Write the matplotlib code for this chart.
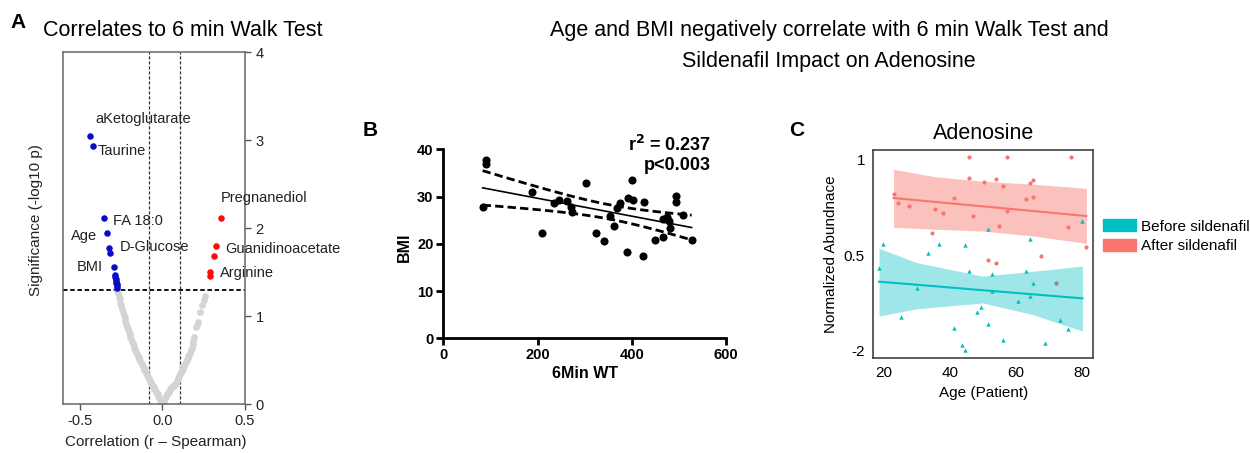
import numpy as np
import matplotlib
matplotlib.use("Agg")
from matplotlib import pyplot as plt
from matplotlib.patches import Patch

plt.rcParams['font.family'] = ['Liberation Sans', 'DejaVu Sans']

# ---- panel A : volcano of correlations with 6MWT ----
sig_neg_r = [-0.434, -0.42, -0.353, -0.333, -0.32, -0.316, -0.293,
             -0.286, -0.284, -0.282, -0.28, -0.278, -0.276, -0.274, -0.272]
sig_neg_p = [3.05, 2.93, 2.11, 1.94, 1.77, 1.72, 1.56,
             1.47, 1.44, 1.42, 1.40, 1.38, 1.36, 1.34, 1.32]
sig_pos_r = [0.355, 0.325, 0.313, 0.289, 0.287]
sig_pos_p = [2.11, 1.80, 1.68, 1.50, 1.45]
ns_r = [-0.003, -0.008, -0.013, -0.018, -0.023, -0.028, -0.033, -0.038, -0.043,
        -0.048, -0.053, -0.058, -0.063, -0.068, -0.073, -0.078, -0.083, -0.088,
        -0.093, -0.098, -0.103, -0.108, -0.113, -0.118, -0.123, -0.128, -0.133,
        -0.138, -0.143, -0.148, -0.153, -0.158, -0.163, -0.168, -0.173, -0.178,
        -0.183, -0.188, -0.193, -0.198, -0.203, -0.208, -0.213, -0.218, -0.223,
        -0.228, -0.233, -0.238, -0.243, -0.248, -0.253, -0.258, -0.263, -0.268, -0.271,
        0.003, 0.008, 0.013, 0.018, 0.023, 0.028, 0.033, 0.038, 0.043, 0.048,
        0.053, 0.058, 0.063, 0.068, 0.073, 0.078, 0.083, 0.088, 0.093, 0.098,
        0.103, 0.108, 0.113, 0.118, 0.123, 0.128, 0.133, 0.138, 0.143, 0.148,
        0.153, 0.158, 0.163, 0.168, 0.173, 0.178, 0.183, 0.188, 0.192,
        0.205, 0.21, 0.215, 0.228, 0.238, 0.252, 0.258]
ns_p = [0.01, 0.03, 0.05, 0.07, 0.09, 0.11, 0.12, 0.14, 0.16,
        0.17, 0.19, 0.21, 0.22, 0.24, 0.26, 0.28, 0.29, 0.31,
        0.33, 0.35, 0.37, 0.39, 0.41, 0.43, 0.45, 0.47, 0.49,
        0.51, 0.53, 0.55, 0.57, 0.59, 0.61, 0.64, 0.66, 0.69,
        0.71, 0.74, 0.76, 0.79, 0.82, 0.85, 0.88, 0.91, 0.94,
        0.98, 1.01, 1.05, 1.08, 1.12, 1.15, 1.19, 1.22, 1.26, 1.28,
        0.01, 0.03, 0.05, 0.07, 0.09, 0.11, 0.12, 0.14, 0.15, 0.17,
        0.18, 0.19, 0.20, 0.21, 0.22, 0.23, 0.24, 0.26, 0.28, 0.30,
        0.32, 0.34, 0.36, 0.38, 0.40, 0.42, 0.44, 0.46, 0.48, 0.50,
        0.52, 0.54, 0.56, 0.58, 0.61, 0.64, 0.68, 0.72, 0.76,
        0.87, 0.90, 0.93, 1.05, 1.12, 1.18, 1.23]
a_labels = ["aKetoglutarate", "Taurine", "Pregnanediol", "FA 18:0", "Age",
            "D-Glucose", "BMI", "Guanidinoacetate", "Arginine"]
a_label_xy = [(-0.404, 3.24), (-0.392, 2.875), (0.355, 2.34), (-0.30, 2.08),
              (-0.554, 1.91), (-0.259, 1.78), (-0.518, 1.56), (0.38, 1.76), (0.349, 1.49)]
r_cut = [-0.078, 0.108]
p_cut = 1.301

# ---- panel B : BMI vs 6MWT ----
wt = [83.5, 90, 90, 187.5, 210, 235, 245.6, 263, 270, 272.5, 303, 324, 342, 354,
      363, 368, 375, 389, 391, 400, 402, 423, 425, 449, 467, 466, 474, 478, 481,
      494, 494, 509.5, 527]
bmi = [27.7, 37.7, 36.9, 31.0, 22.2, 28.7, 29.3, 29.1, 27.7, 26.8, 32.9, 22.2,
       20.5, 25.9, 23.8, 27.5, 28.7, 18.3, 29.6, 33.4, 29.3, 17.4, 28.8, 20.7,
       21.5, 25.3, 25.6, 24.9, 23.3, 30.1, 28.8, 26.1, 20.8]

# ---- panel C : adenosine vs age ----
after_age = [45.9, 57.3, 76.8, 45.9, 50.4, 53.9, 56.2, 64.2, 65.3, 22.9, 24.1,
             27.6, 41.3, 35.6, 37.8, 47.1, 57.3, 63.0, 65.3, 55.0, 34.5, 75.7,
             81.4, 67.6, 51.6, 53.9]
after_val = [1.026, 1.019, 1.026, 0.807, 0.765, 0.79, 0.723, 0.755, 0.783, 0.633,
             0.546, 0.515, 0.591, 0.477, 0.435, 0.41, 0.463, 0.588, 0.605, 0.299,
             0.226, 0.292, 0.087, -0.014, -0.056, -0.087]
before_age = [18.5, 19.6, 25.3, 29.9, 33.4, 36.8, 41.3, 43.6, 44.7, 44.7, 45.9,
              48.2, 49.3, 51.6, 51.6, 52.8, 52.8, 56.2, 60.8, 63.0, 64.2, 64.2,
              65.3, 68.8, 73.3, 75.7, 80.2]
before_val = [-0.132, 0.111, -0.643, -0.348, 0.017, 0.118, -0.765, -0.939, -0.991,
              0.101, -0.167, -0.598, -0.539, 0.275, -0.723, -0.198, -0.376, -0.887,
              -0.48, -0.163, 0.167, -0.424, -0.296, -0.915, -0.678, -0.769, 0.355]
overlap_age = [72.2]
overlap_val = [-0.289]
after_band_x = [22.9, 35, 50, 65, 81.4]
after_fit = [0.595, 0.556, 0.508, 0.460, 0.407]
after_hi = [0.894, 0.82, 0.77, 0.74, 0.696]
after_lo = [0.289, 0.27, 0.25, 0.20, 0.122]
before_band_x = [18.5, 30, 50, 65, 80.2]
before_fit = [-0.278, -0.310, -0.367, -0.409, -0.452]
before_hi = [0.07, -0.08, -0.22, -0.17, -0.115]
before_lo = [-0.637, -0.56, -0.50, -0.62, -0.793]
c_yticks = [1, 0, -1]
c_yticklabels = ["1", "0.5", "-2"]

W, H = 1250, 453
fig = plt.figure(figsize=(12.5, 4.53), dpi=100)

def fx(px):
    return px / W

def fy(py):
    return 1 - py / H

# ---------------- A ----------------
axA = fig.add_axes([fx(63), fy(404), fx(245) - fx(63), fy(52) - fy(404)])
axA.scatter(ns_r, ns_p, s=24, color='#d4d4d4', lw=0, zorder=2)
axA.scatter(sig_neg_r, sig_neg_p, s=22, color='#0a0ac8', lw=0, zorder=3)
axA.scatter(sig_pos_r, sig_pos_p, s=22, color='#ff0a0a', lw=0, zorder=3)
for xc in r_cut:
    axA.axvline(xc, color='#333333', lw=0.9, ls=(0, (2.5, 1.5)), zorder=1)
axA.axhline(p_cut, color='black', lw=1.3, ls=(0, (2.5, 1.5)), zorder=1)
for lab, (lx, ly) in zip(a_labels, a_label_xy):
    axA.text(lx, ly, lab, fontsize=10.5, va='center', ha='left', color='#222222')
axA.set_xlim(-0.6, 0.5)
axA.set_ylim(0, 4)
axA.set_xticks([-0.5, 0.0, 0.5])
axA.set_xticklabels(["-0.5", "0.0", "0.5"])
axA.yaxis.tick_right()
axA.set_yticks([0, 1, 2, 3, 4])
axA.tick_params(axis='both', direction='out', length=4, width=1, color='#555555',
                labelsize=10.5, labelcolor='#222222')
for sp in axA.spines.values():
    sp.set_color('#666666')
    sp.set_linewidth(1.1)
fig.text(fx(36), fy(220), "Significance (-log10 p)", rotation=90, fontsize=11,
         ha='center', va='center', color='#222222')
fig.text(fx(156), fy(442), "Correlation (r \u2013 Spearman)", fontsize=11,
         ha='center', va='center', color='#222222')
fig.text(fx(183), fy(30), "Correlates to 6 min Walk Test", fontsize=15.5,
         ha='center', va='center')
fig.text(fx(18), fy(22), "A", fontsize=15, fontweight='bold', ha='center', va='center')

# ---------------- B ----------------
axB = fig.add_axes([fx(443.3), fy(338.3), fx(726) - fx(443.3), fy(149.3) - fy(338.3)])
x = np.array(wt)
y = np.array(bmi)
slope, icpt = np.polyfit(x, y, 1)
xs = np.linspace(x.min(), x.max(), 100)
yfit = slope * xs + icpt
resid = y - (slope * x + icpt)
n = len(x)
s_err = np.sqrt(np.sum(resid ** 2) / (n - 2))
half = 2.04 * s_err * np.sqrt(1 / n + (xs - x.mean()) ** 2 / np.sum((x - x.mean()) ** 2))
axB.scatter(wt, bmi, s=34, color='black', lw=0, zorder=3)
axB.plot(xs, yfit, color='black', lw=1.2)
axB.plot(xs, yfit + half, color='black', lw=2, ls=(0, (3, 1.5)))
axB.plot(xs, yfit - half, color='black', lw=2, ls=(0, (3, 1.5)))
axB.set_xlim(0, 600)
axB.set_ylim(0, 40)
axB.set_xticks([0, 200, 400, 600])
axB.set_yticks([0, 10, 20, 30, 40])
axB.spines['top'].set_visible(False)
axB.spines['right'].set_visible(False)
axB.spines['left'].set_linewidth(2)
axB.spines['bottom'].set_linewidth(2)
axB.tick_params(direction='out', length=5, width=2, labelsize=10.5, pad=2)
for t in axB.get_xticklabels() + axB.get_yticklabels():
    t.set_fontweight('bold')
fig.text(fx(404), fy(247), "BMI", rotation=90, fontsize=11.5, fontweight='bold',
         ha='center', va='center')
fig.text(fx(585), fy(374), "6Min WT", fontsize=11.5, fontweight='bold',
         ha='center', va='center')
fig.text(fx(711), fy(145), "r$^\\mathbf{2}$ = 0.237", fontsize=13, fontweight='bold',
         ha='right', va='center')
fig.text(fx(711), fy(166), "p<0.003", fontsize=13, fontweight='bold',
         ha='right', va='center')
fig.text(fx(370), fy(130), "B", fontsize=15, fontweight='bold', ha='center', va='center')

# ---------------- C ----------------
teal = '#00BFC4'
salmon = '#F8766D'
axC = fig.add_axes([fx(873.3), fy(357.7), fx(1093.3) - fx(873.3), fy(150) - fy(357.7)])
axC.fill_between(after_band_x, after_lo, after_hi, color=salmon, alpha=0.45, lw=0)
axC.fill_between(before_band_x, before_lo, before_hi, color=teal, alpha=0.38, lw=0)
axC.plot(after_band_x, after_fit, color=salmon, lw=1.5)
axC.plot(before_band_x, before_fit, color=teal, lw=1.5)
axC.scatter(after_age, after_val, s=9, color=salmon, lw=0, zorder=3)
axC.scatter(before_age, before_val, s=10, marker='^', color=teal, lw=0, zorder=3)
axC.scatter(overlap_age, overlap_val, s=9, color='#9a8480', lw=0, zorder=3)
axC.set_xlim(16.75, 83.5)
axC.set_ylim(-1.071, 1.096)
axC.set_xticks([20, 40, 60, 80])
axC.set_yticks(c_yticks)
axC.set_yticklabels(c_yticklabels)
axC.tick_params(length=0, labelsize=11, pad=6)
for sp in axC.spines.values():
    sp.set_color('#333333')
    sp.set_linewidth(1.1)
axC.set_xlabel("Age (Patient)", fontsize=11, labelpad=4)
axC.set_ylabel("Normalized Abundnace", fontsize=11, labelpad=4)
axC.set_title("Adenosine", fontsize=15.5, pad=8)
axC.legend(handles=[Patch(color=teal, label="Before sildenafil"),
                    Patch(color=salmon, label="After sildenafil")],
           loc='center left', bbox_to_anchor=(1.015, 0.585), frameon=False,
           fontsize=11, handlelength=2.2, handleheight=0.8, handletextpad=0.3,
           labelspacing=0.35, borderaxespad=0)
fig.text(fx(797), fy(130), "C", fontsize=15, fontweight='bold', ha='center', va='center')

fig.text(fx(829), fy(46), "Age and BMI negatively correlate with 6 min Walk Test and\n"
         "Sildenafil Impact on Adenosine", fontsize=15.5, ha='center', va='center',
         linespacing=1.6)

fig.savefig("out.png", dpi=100)
